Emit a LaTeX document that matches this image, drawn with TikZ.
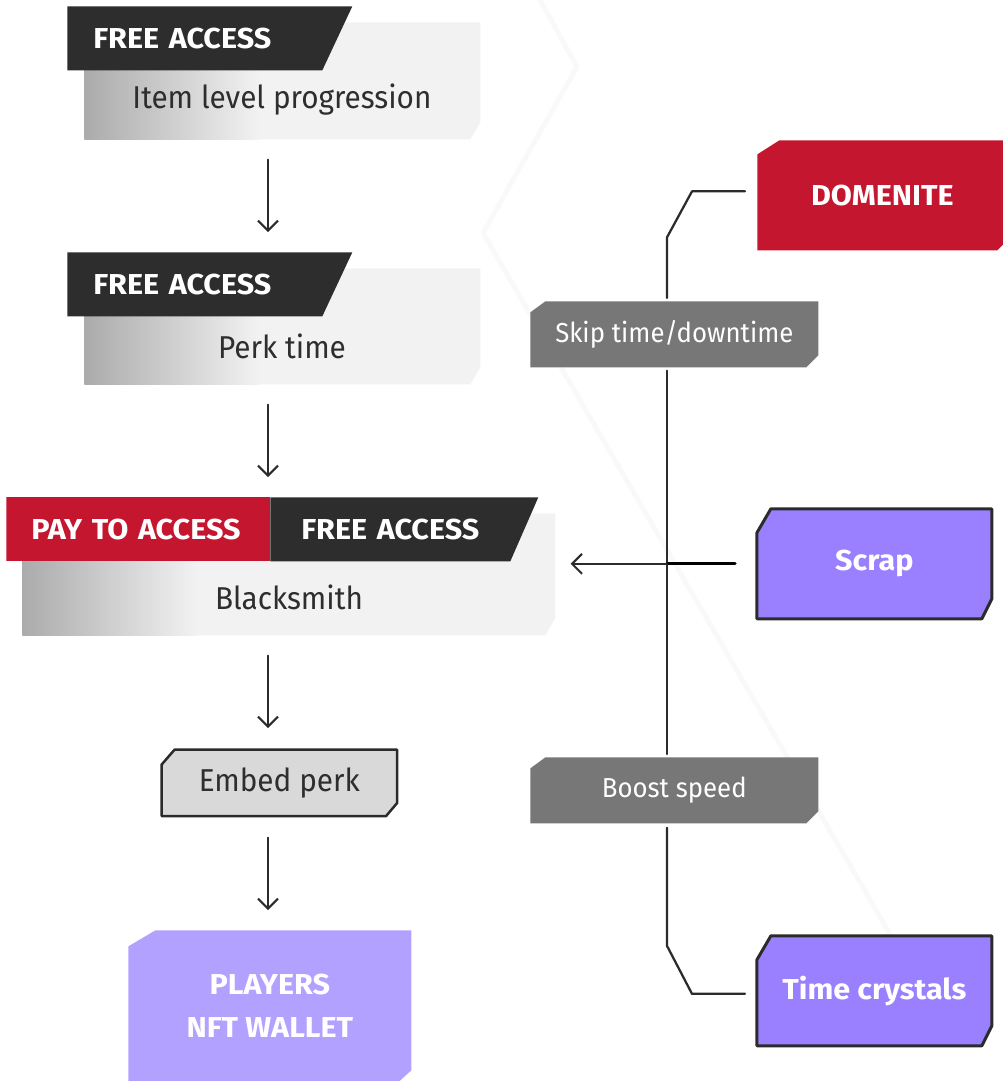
\documentclass[tikz,border=0pt]{standalone}
\usepackage{fontspec}
\setmainfont{Fira Sans}[UprightFeatures={FakeStretch=0.94}, BoldFeatures={FakeStretch=1.06}]
\usetikzlibrary{arrows.meta,calc,positioning}
\definecolor{tabdark}{HTML}{2D2D2D}
\definecolor{payred}{HTML}{C4162F}
\definecolor{panelgray}{HTML}{F2F2F2}
\definecolor{shadegray}{HTML}{ABABAB}
\definecolor{labelgray}{HTML}{777777}
\definecolor{scrapviolet}{HTML}{9A80FF}
\definecolor{walletviolet}{HTML}{B3A1FF}
\definecolor{embedgray}{HTML}{D9D9D9}
\definecolor{linedark}{HTML}{2B2B2B}
\definecolor{textdark}{HTML}{2E2E2E}
% polygon with cut corners, inside a path picture
\newcommand\cutpoly[6]{\path[#1] let \p1=(path picture bounding box.north west), \p2=(path picture bounding box.south east) in
  (\x1+#2+#3,\y1-#2) -- (\x2-#2,\y1-#2) -- (\x2-#2,\y2+#2+#6) -- (\x2-#2-#5,\y2+#2)
  -- (\x1+#2,\y2+#2) -- (\x1+#2,\y1-#2-#4) -- cycle;}
\begin{document}
\begin{tikzpicture}[x=0.02cm,y=-0.02cm,>={Straight Barb[length=0.2cm,width=0.4cm]}, line join=round, line cap=round,
    tab/.style 2 args={anchor=north west, minimum height=1.28cm, align=left, text=white,
      font=\fontsize{16.4}{18}\selectfont\bfseries,
      path picture={\fill[#1] (path picture bounding box.north west) -- (path picture bounding box.north east)
        -- ([xshift=-#2]path picture bounding box.south east) -- (path picture bounding box.south west) -- cycle;}},
    panel/.style={anchor=north west, inner sep=0pt,
      path picture={\cutpoly{fill=panelgray}{0pt}{0pt}{0pt}{0.2cm}{0.34cm}
        \shade[left color=shadegray,right color=panelgray] (path picture bounding box.south west)
          rectangle ([xshift=3.5cm]path picture bounding box.north west);}},
    cut/.style n args={6}{anchor=north west, inner sep=0pt, path picture={\cutpoly{#1}{#2}{#3}{#4}{#5}{#6}}},
    paneltext/.style={text=textdark, font=\fontsize{18}{20}\selectfont},
    labeltext/.style={text=white, font=\fontsize{15.6}{18}\selectfont},
    boldtext/.style={text=white, font=\fontsize{16.4}{24.4}\selectfont\bfseries, align=center},
    flow/.style={->, draw=linedark, line width=0.04cm, shorten <=0.4cm, shorten >=0.4cm},
    link/.style={draw=linedark, line width=0.045cm},
    hexline/.style={draw=black!2.5, line width=0.1cm}]
  \useasboundingbox (0,0) rectangle (1003,1081);
  \clip (0,0) rectangle (1003,1081);
  \draw[hexline] (540,0) -- (577,67) -- (483,233) -- (905,960);
  \coordinate (spine) at (268,0);
  \coordinate (trunk) at (667,0);

  \node[panel, minimum width=7.92cm, minimum height=2.34cm] (panel1) at (84,22) {};
  \node[tab={tabdark}{0.6cm}, inner xsep=0.52cm, text width=4.66cm] (tab1) at (67,6) {FREE ACCESS};
  \node[paneltext] (item) at (282,100) {Item level progression};

  \node[panel, minimum width=7.92cm, minimum height=2.32cm] (panel2) at (84,268) {};
  \node[tab={tabdark}{0.6cm}, inner xsep=0.52cm, text width=4.66cm] (tab2) at (67,252) {FREE ACCESS};
  \node[paneltext] (perk) at (282,346) {Perk time};

  \node[panel, minimum width=10.66cm, minimum height=2.44cm] (panel3) at (22,513) {};
  \node[tab={payred}{0cm}, inner xsep=0.5cm, text width=4.28cm] (pay) at (6,497) {PAY TO ACCESS};
  \node[tab={tabdark}{0.56cm}, inner xsep=0.62cm, text width=4.12cm] (tab3) at (270,497) {FREE ACCESS};
  \node[paneltext] (smith) at (289,597) {Blacksmith};

  \node[cut={fill=embedgray,draw=linedark,line width=0.05cm}{0.025cm}{0.26cm}{0.3cm}{0.22cm}{0.26cm},
    minimum width=4.76cm, minimum height=1.38cm, paneltext] (embed) at (160,748) {Embed perk};
  \node[cut={fill=walletviolet}{0pt}{0.54cm}{0.32cm}{0.24cm}{0.22cm},
    minimum width=5.66cm, minimum height=3.02cm, boldtext] (wallet) at (128,930) {PLAYERS\\NFT WALLET};

  \node[cut={fill=payred}{0pt}{0.44cm}{0.28cm}{0.2cm}{0.2cm},
    minimum width=5cm, minimum height=2.2cm, boldtext] (dom) at (757,140) {DOMENITE};
  \node[cut={fill=labelgray}{0pt}{0.3cm}{0.22cm}{0.24cm}{0.24cm},
    minimum width=5.76cm, minimum height=1.32cm, labeltext] (skip) at (530,301) {Skip time/downtime};
  \node[cut={fill=scrapviolet,draw=linedark,line width=0.06cm}{0.03cm}{0.28cm}{0.48cm}{0.2cm}{0.4cm},
    minimum width=4.76cm, minimum height=2.26cm, boldtext] (scrap) at (755,507) {Scrap};
  \node[cut={fill=labelgray}{0pt}{0.3cm}{0.22cm}{0.24cm}{0.24cm},
    minimum width=5.76cm, minimum height=1.32cm, labeltext] (boost) at (530,757) {Boost speed};
  \node[cut={fill=scrapviolet,draw=linedark,line width=0.06cm}{0.03cm}{0.28cm}{0.48cm}{0.2cm}{0.4cm},
    minimum width=4.76cm, minimum height=2.26cm, boldtext] (crystals) at (755,934) {Time crystals};

  \draw[flow] (panel1.south -| spine) -- (tab2.north -| spine);
  \draw[flow] (panel2.south -| spine) -- (tab3.north -| spine);
  \draw[flow] (panel3.south -| spine) -- (embed.north -| spine);
  \draw[flow] (embed.south -| spine) -- (wallet.north -| spine);

  \draw[link] ($(dom.west)+(-12,-4)$) -- ++(-53,0) -- ++(-25,46) -- ($(skip.north -| trunk)+(0,-3)$);
  \draw[link] ($(skip.south -| trunk)+(0,3)$) -- ($(boost.north -| trunk)+(0,-3)$);
  \draw[link] ($(boost.south -| trunk)+(0,4)$) -- ($(crystals.west -| trunk)+(0,-45)$) -- ++(25,48)
    -- ($(crystals.west)+(-10,3)$);
  \draw[link, draw=black, line width=0.06cm] ($(scrap.west)+(-20,0)$) -- (scrap.west -| trunk);
  \draw[flow, shorten <=0pt, shorten >=0pt] (scrap.west -| trunk) -- ($(panel3.east |- scrap.west)+(15,0)$);
\end{tikzpicture}
\end{document}
